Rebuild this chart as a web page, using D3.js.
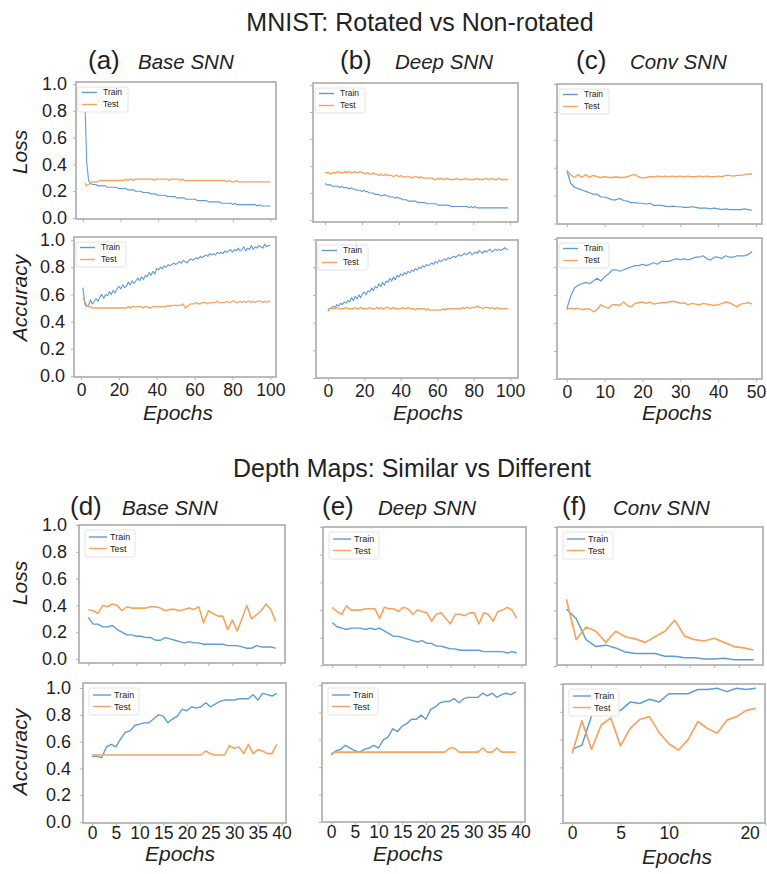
<!DOCTYPE html>
<html>
<head>
<meta charset="utf-8">
<script src="https://cdn.jsdelivr.net/npm/d3@7"></script>
<style>
  body { margin: 0; background: #fff; }
  svg text { font-family: "Liberation Sans", "DejaVu Sans", sans-serif; fill: #222; }
  .frame { fill: none; stroke: #b3b3b3; stroke-width: 1.8; }
  .tick line { stroke: #b3b3b3; }
  .domain { display: none; }
</style>
</head>
<body>
<svg id="fig" width="767" height="874"></svg>
<script>

// Section titles, panel letters and model names
var sectionTitles = ["MNIST: Rotated vs Non-rotated", "Depth Maps: Similar vs Different"];
var panelLetters = [["(a)", "(b)", "(c)"], ["(d)", "(e)", "(f)"]];
var modelNames = ["Base SNN", "Deep SNN", "Conv SNN"];
var seriesNames = ["Train", "Test"];
var yTickValues = [0, 0.2, 0.4, 0.6, 0.8, 1.0];

// (a) MNIST, Base SNN, epochs 1..100
var mnistBaseLossTrain = [0.90,0.42,0.28,0.26,0.25,0.25,0.25,0.24,0.24,0.24,
  0.24,0.24,0.23,0.23,0.23,0.23,0.23,0.23,0.22,0.22,
  0.22,0.22,0.22,0.21,0.21,0.21,0.21,0.20,0.20,0.20,
  0.20,0.19,0.19,0.19,0.19,0.18,0.18,0.18,0.18,0.17,
  0.17,0.17,0.17,0.17,0.16,0.16,0.16,0.16,0.16,0.15,
  0.15,0.15,0.15,0.15,0.14,0.14,0.14,0.14,0.14,0.14,
  0.13,0.13,0.13,0.13,0.13,0.13,0.12,0.12,0.12,0.12,
  0.12,0.12,0.12,0.11,0.11,0.11,0.11,0.11,0.11,0.10,
  0.11,0.10,0.10,0.10,0.10,0.10,0.10,0.10,0.10,0.10,
  0.10,0.10,0.09,0.10,0.09,0.09,0.09,0.09,0.09,0.09];
var mnistBaseLossTest = [0.26,0.24,0.25,0.26,0.27,0.27,0.27,0.27,0.28,0.28,
  0.28,0.28,0.28,0.28,0.28,0.28,0.28,0.28,0.28,0.28,
  0.28,0.28,0.29,0.28,0.29,0.29,0.28,0.29,0.29,0.29,
  0.29,0.29,0.29,0.29,0.29,0.29,0.29,0.28,0.29,0.29,
  0.29,0.29,0.29,0.29,0.29,0.28,0.29,0.29,0.29,0.29,
  0.29,0.28,0.29,0.28,0.28,0.28,0.28,0.28,0.28,0.28,
  0.28,0.28,0.28,0.28,0.28,0.28,0.28,0.28,0.28,0.28,
  0.28,0.28,0.28,0.28,0.28,0.28,0.27,0.28,0.27,0.27,
  0.27,0.28,0.27,0.27,0.27,0.27,0.27,0.27,0.27,0.27,
  0.27,0.27,0.27,0.27,0.27,0.27,0.27,0.27,0.27,0.27];
var mnistBaseAccTrain = [0.65,0.53,0.51,0.52,0.56,0.53,0.55,0.57,0.55,0.58,
  0.60,0.57,0.60,0.59,0.62,0.60,0.63,0.61,0.64,0.66,
  0.64,0.67,0.65,0.66,0.69,0.67,0.70,0.68,0.70,0.72,
  0.70,0.73,0.71,0.74,0.73,0.76,0.74,0.77,0.75,0.79,
  0.78,0.80,0.79,0.81,0.80,0.82,0.81,0.82,0.83,0.82,
  0.83,0.84,0.83,0.85,0.84,0.83,0.85,0.86,0.85,0.86,
  0.87,0.86,0.88,0.87,0.88,0.89,0.88,0.90,0.89,0.90,
  0.89,0.91,0.90,0.91,0.90,0.92,0.91,0.92,0.93,0.91,
  0.93,0.92,0.94,0.92,0.93,0.95,0.92,0.94,0.93,0.96,
  0.93,0.95,0.94,0.96,0.95,0.94,0.97,0.95,0.96,0.96];
var mnistBaseAccTest = [0.57,0.55,0.52,0.51,0.51,0.50,0.50,0.50,0.50,0.50,
  0.50,0.50,0.50,0.50,0.50,0.50,0.50,0.50,0.50,0.50,
  0.50,0.50,0.50,0.50,0.51,0.50,0.51,0.51,0.51,0.51,
  0.51,0.51,0.50,0.51,0.51,0.50,0.50,0.51,0.51,0.51,
  0.51,0.51,0.51,0.51,0.51,0.52,0.51,0.52,0.52,0.52,
  0.52,0.52,0.52,0.53,0.50,0.51,0.52,0.53,0.53,0.53,
  0.54,0.53,0.53,0.54,0.54,0.54,0.53,0.54,0.54,0.54,
  0.54,0.55,0.54,0.54,0.54,0.54,0.55,0.54,0.54,0.55,
  0.55,0.54,0.54,0.55,0.54,0.55,0.54,0.55,0.55,0.54,
  0.55,0.54,0.55,0.55,0.55,0.54,0.55,0.54,0.55,0.55];

// (b) MNIST, Deep SNN, epochs 0..99
var mnistDeepLossTrain = [0.27,0.26,0.26,0.26,0.25,0.25,0.25,0.25,0.24,0.25,
  0.24,0.24,0.24,0.23,0.24,0.23,0.23,0.22,0.22,0.22,
  0.21,0.22,0.21,0.21,0.20,0.20,0.20,0.19,0.19,0.19,
  0.18,0.18,0.19,0.18,0.18,0.17,0.17,0.17,0.16,0.17,
  0.16,0.16,0.15,0.15,0.15,0.14,0.14,0.14,0.14,0.14,
  0.13,0.13,0.13,0.13,0.13,0.12,0.12,0.12,0.12,0.12,
  0.12,0.11,0.11,0.11,0.11,0.11,0.11,0.11,0.10,0.10,
  0.10,0.10,0.10,0.10,0.10,0.10,0.10,0.10,0.09,0.10,
  0.09,0.10,0.09,0.09,0.09,0.09,0.09,0.09,0.09,0.09,
  0.09,0.09,0.09,0.09,0.09,0.09,0.09,0.09,0.09,0.09];
var mnistDeepLossTest = [0.35,0.35,0.35,0.34,0.35,0.35,0.35,0.36,0.35,0.35,
  0.35,0.36,0.35,0.36,0.35,0.35,0.36,0.35,0.35,0.36,
  0.35,0.35,0.34,0.35,0.34,0.34,0.35,0.34,0.34,0.33,
  0.34,0.33,0.33,0.34,0.33,0.33,0.33,0.32,0.33,0.33,
  0.32,0.33,0.32,0.32,0.32,0.32,0.32,0.31,0.32,0.32,
  0.32,0.31,0.32,0.31,0.31,0.31,0.31,0.31,0.31,0.30,
  0.30,0.31,0.30,0.31,0.30,0.30,0.31,0.30,0.30,0.30,
  0.30,0.31,0.30,0.30,0.30,0.30,0.31,0.30,0.30,0.30,
  0.30,0.30,0.31,0.30,0.30,0.30,0.30,0.31,0.30,0.30,
  0.31,0.30,0.30,0.30,0.31,0.30,0.30,0.30,0.30,0.30];
var mnistDeepAccTrain = [0.48,0.50,0.50,0.52,0.51,0.53,0.52,0.54,0.53,0.55,
  0.54,0.56,0.55,0.58,0.56,0.59,0.57,0.60,0.58,0.61,
  0.62,0.60,0.63,0.62,0.65,0.63,0.66,0.65,0.68,0.66,
  0.69,0.67,0.70,0.69,0.72,0.70,0.73,0.71,0.74,0.73,
  0.75,0.74,0.76,0.75,0.77,0.76,0.78,0.77,0.79,0.78,
  0.80,0.79,0.81,0.80,0.82,0.81,0.82,0.83,0.82,0.84,
  0.83,0.85,0.84,0.85,0.86,0.85,0.87,0.86,0.87,0.88,
  0.87,0.88,0.89,0.88,0.89,0.90,0.89,0.90,0.91,0.89,
  0.90,0.91,0.90,0.92,0.91,0.90,0.92,0.91,0.92,0.93,
  0.91,0.92,0.93,0.92,0.93,0.92,0.93,0.94,0.93,0.93];
var mnistDeepAccTest = [0.50,0.50,0.51,0.50,0.50,0.51,0.50,0.50,0.50,0.50,
  0.51,0.50,0.50,0.50,0.50,0.51,0.50,0.50,0.51,0.50,
  0.50,0.50,0.50,0.51,0.50,0.50,0.50,0.51,0.50,0.51,
  0.50,0.50,0.51,0.51,0.50,0.50,0.51,0.50,0.50,0.50,
  0.50,0.51,0.50,0.50,0.51,0.50,0.50,0.50,0.49,0.50,
  0.50,0.50,0.50,0.50,0.49,0.50,0.49,0.49,0.49,0.49,
  0.49,0.49,0.49,0.50,0.49,0.50,0.50,0.50,0.50,0.50,
  0.50,0.50,0.50,0.50,0.51,0.50,0.51,0.51,0.50,0.51,
  0.51,0.51,0.52,0.51,0.51,0.50,0.51,0.51,0.51,0.50,
  0.51,0.50,0.50,0.51,0.50,0.50,0.50,0.50,0.50,0.50];

// (c) MNIST, Conv SNN, epochs 0..49
var mnistConvLossTrain = [0.38,0.29,0.26,0.25,0.24,0.23,0.22,0.21,0.21,0.19,
  0.19,0.18,0.17,0.17,0.18,0.165,0.16,0.15,0.15,0.145,
  0.145,0.14,0.145,0.13,0.13,0.13,0.125,0.12,0.125,0.12,
  0.12,0.115,0.115,0.12,0.115,0.11,0.11,0.11,0.105,0.11,
  0.105,0.10,0.105,0.10,0.10,0.10,0.10,0.105,0.10,0.095];
var mnistConvLossTest = [0.38,0.35,0.33,0.35,0.33,0.35,0.33,0.345,0.335,0.33,
  0.335,0.33,0.33,0.335,0.33,0.33,0.335,0.345,0.35,0.335,
  0.325,0.33,0.335,0.335,0.34,0.335,0.34,0.335,0.34,0.335,
  0.34,0.335,0.34,0.335,0.335,0.34,0.335,0.34,0.335,0.335,
  0.34,0.335,0.345,0.345,0.34,0.345,0.345,0.35,0.355,0.355];
var mnistConvAccTrain = [0.50,0.59,0.65,0.67,0.68,0.69,0.68,0.70,0.72,0.70,
  0.73,0.75,0.78,0.78,0.77,0.78,0.79,0.80,0.81,0.81,
  0.82,0.81,0.82,0.83,0.82,0.84,0.84,0.84,0.85,0.86,
  0.85,0.86,0.85,0.86,0.87,0.87,0.88,0.86,0.85,0.87,
  0.87,0.86,0.88,0.87,0.87,0.88,0.88,0.88,0.89,0.91];
var mnistConvAccTest = [0.50,0.505,0.50,0.505,0.495,0.50,0.50,0.48,0.495,0.53,
  0.515,0.505,0.53,0.53,0.525,0.55,0.525,0.515,0.54,0.545,
  0.55,0.54,0.55,0.535,0.54,0.545,0.545,0.55,0.555,0.55,
  0.54,0.545,0.53,0.54,0.535,0.53,0.54,0.535,0.53,0.525,
  0.53,0.54,0.55,0.545,0.53,0.515,0.535,0.54,0.545,0.535];

// (d) Depth maps, Base SNN, epochs 0..39
var depthBaseLossTrain = [0.31,0.26,0.26,0.24,0.24,0.25,0.22,0.20,0.18,0.18,
  0.17,0.17,0.16,0.16,0.14,0.14,0.16,0.15,0.14,0.13,
  0.12,0.13,0.12,0.12,0.11,0.11,0.11,0.11,0.11,0.10,
  0.10,0.10,0.09,0.08,0.08,0.10,0.09,0.09,0.09,0.08];
var depthBaseLossTest = [0.37,0.36,0.34,0.40,0.39,0.41,0.40,0.36,0.39,0.38,
  0.38,0.38,0.38,0.39,0.39,0.38,0.36,0.37,0.37,0.36,
  0.37,0.38,0.37,0.39,0.27,0.36,0.34,0.32,0.32,0.22,
  0.29,0.21,0.30,0.40,0.30,0.33,0.36,0.41,0.37,0.28];
var depthBaseAccTrain = [0.49,0.49,0.48,0.56,0.58,0.56,0.62,0.67,0.68,0.72,
  0.73,0.74,0.74,0.77,0.80,0.79,0.74,0.77,0.79,0.84,
  0.83,0.86,0.85,0.86,0.89,0.86,0.88,0.90,0.91,0.91,
  0.91,0.92,0.92,0.92,0.95,0.91,0.96,0.95,0.94,0.96];
var depthBaseAccTest = [0.50,0.50,0.50,0.50,0.50,0.50,0.50,0.50,0.50,0.50,
  0.50,0.50,0.50,0.50,0.50,0.50,0.50,0.50,0.50,0.50,
  0.50,0.50,0.50,0.50,0.53,0.51,0.50,0.50,0.50,0.57,
  0.55,0.56,0.51,0.58,0.51,0.54,0.53,0.51,0.51,0.58];

// (e) Depth maps, Deep SNN, epochs 0..39
var depthDeepLossTrain = [0.31,0.28,0.27,0.26,0.27,0.27,0.27,0.26,0.27,0.26,
  0.27,0.25,0.23,0.21,0.21,0.20,0.19,0.18,0.17,0.18,
  0.16,0.16,0.14,0.14,0.13,0.12,0.12,0.11,0.11,0.11,
  0.11,0.11,0.10,0.10,0.10,0.10,0.10,0.09,0.10,0.09];
var depthDeepLossTest = [0.42,0.39,0.37,0.43,0.40,0.40,0.40,0.41,0.41,0.41,
  0.34,0.42,0.41,0.41,0.39,0.42,0.41,0.37,0.40,0.39,
  0.38,0.32,0.37,0.38,0.34,0.30,0.37,0.37,0.36,0.38,
  0.38,0.30,0.38,0.37,0.32,0.39,0.40,0.42,0.40,0.34];
var depthDeepAccTrain = [0.49,0.52,0.53,0.56,0.54,0.52,0.51,0.53,0.54,0.56,
  0.54,0.60,0.62,0.68,0.66,0.70,0.72,0.75,0.75,0.78,
  0.75,0.82,0.84,0.87,0.88,0.88,0.90,0.87,0.90,0.91,
  0.91,0.91,0.94,0.92,0.94,0.91,0.93,0.94,0.93,0.95];
var depthDeepAccTest = [0.50,0.51,0.51,0.51,0.51,0.51,0.51,0.51,0.51,0.51,
  0.51,0.51,0.51,0.51,0.51,0.51,0.51,0.51,0.51,0.51,
  0.51,0.51,0.51,0.51,0.51,0.54,0.54,0.51,0.51,0.51,
  0.51,0.51,0.54,0.51,0.51,0.54,0.51,0.51,0.51,0.51];

// (f) Depth maps, Conv SNN, epochs 0..19
var depthConvLossTrain = [0.41,0.34,0.19,0.14,0.15,0.13,0.10,0.09,0.09,0.09,
  0.07,0.07,0.06,0.06,0.05,0.05,0.055,0.045,0.045,0.045];
var depthConvLossTest = [0.48,0.19,0.28,0.25,0.17,0.25,0.21,0.195,0.17,0.21,
  0.25,0.33,0.215,0.19,0.18,0.20,0.17,0.14,0.13,0.115];
var depthConvAccTrain = [0.53,0.56,0.77,0.81,0.81,0.81,0.87,0.86,0.89,0.87,
  0.93,0.93,0.93,0.96,0.96,0.97,0.945,0.97,0.96,0.97];
var depthConvAccTest = [0.50,0.735,0.53,0.705,0.755,0.555,0.68,0.745,0.765,0.65,
  0.57,0.525,0.60,0.73,0.68,0.645,0.74,0.765,0.81,0.825];

// Colours
var trainColor = "#5f9bd6",
    testColor = "#f6a35e";

// Layout of every sub plot: frame box, value-to-pixel anchors, x limits
var panels = [
  // MNIST row
  {box: [76, 82, 276, 219], yPix: [218, 84], xLim: [-3.7, 103], first: 1, train: mnistBaseLossTrain, test: mnistBaseLossTest, xTicks: [0,20,40,60,80,100], yLabels: true, lw: 1.1},
  {box: [74, 237, 276, 377], yPix: [376, 240], xLim: [-3.7, 103], first: 1, train: mnistBaseAccTrain, test: mnistBaseAccTest, xTicks: [0,20,40,60,80,100], yLabels: true, xLabels: true, lw: 1.1},
  {box: [313, 83, 518, 222], yPix: [220, 85], xLim: [-6.5, 104.3], first: 0, train: mnistDeepLossTrain, test: mnistDeepLossTest, xTicks: [0,20,40,60,80,100], lw: 1.1},
  {box: [316, 240, 518, 378], yPix: [378, 239.5], xLim: [-6.5, 104.3], first: 0, train: mnistDeepAccTrain, test: mnistDeepAccTest, xTicks: [0,20,40,60,80,100], xLabels: true, lw: 1.1},
  {box: [557, 84, 762, 224], yPix: [223.5, 84], xLim: [-2.6, 51.6], first: 0, train: mnistConvLossTrain, test: mnistConvLossTest, xTicks: [0,10,20,30,40,50], lw: 1.2},
  {box: [557, 238, 762, 379], yPix: [379, 239], xLim: [-2.6, 51.6], first: 0, train: mnistConvAccTrain, test: mnistConvAccTest, xTicks: [0,10,20,30,40,50], xLabels: true, lw: 1.2},
  // Depth maps row
  {box: [79, 525, 285, 663], yPix: [659, 525], xLim: [-1.95, 40.95], first: 0, train: depthBaseLossTrain, test: depthBaseLossTest, xTicks: [0,5,10,15,20,25,30,35,40], yLabels: true, big: true, lw: 1.4},
  {box: [83, 683, 286, 823], yPix: [822, 688], xLim: [-1.95, 40.95], first: 0, train: depthBaseAccTrain, test: depthBaseAccTest, xTicks: [0,5,10,15,20,25,30,35,40], yLabels: true, xLabels: true, big: true, lw: 1.4},
  {box: [323, 527, 526, 665], yPix: [665.5, 527], xLim: [-1.95, 40.95], first: 0, train: depthDeepLossTrain, test: depthDeepLossTest, xTicks: [0,5,10,15,20,25,30,35,40], big: true, lw: 1.4},
  {box: [322, 683, 525, 822], yPix: [822, 685], xLim: [-1.95, 40.95], first: 0, train: depthDeepAccTrain, test: depthDeepAccTest, xTicks: [0,5,10,15,20,25,30,35,40], xLabels: true, big: true, lw: 1.4},
  {box: [557, 527, 763, 665], yPix: [666, 527], xLim: [-0.95, 19.95], first: 0, train: depthConvLossTrain, test: depthConvLossTest, xTicks: [0,2.5,5,7.5,10,12.5,15,17.5], big: true, lw: 1.5},
  {box: [563, 684, 765, 823], yPix: [823, 684], xLim: [-0.95, 19.95], first: 0, train: depthConvAccTrain, test: depthConvAccTest, xTicks: [0,5,10,20], xLabels: true, big: true, lw: 1.5}
];

var svg = d3.select("#fig");

// Draw each sub plot
panels.forEach(function(p) {
  var x = d3.scaleLinear().domain(p.xLim).range([p.box[0], p.box[2]]),
      y = d3.scaleLinear().domain([0, 1]).range(p.yPix);

  var g = svg.append("g");

  // Left axis (ticks, labels only on the first column)
  var yAxis = g.append("g")
      .attr("transform", "translate(" + p.box[0] + ",0)")
      .call(d3.axisLeft(y)
          .tickValues(yTickValues)
          .tickSize(3)
          .tickPadding(p.big ? 9 : 6)
          .tickFormat(p.yLabels ? d3.format(".1f") : ""));
  yAxis.selectAll("text").style("font-size", "18px").attr("fill", "#2a2a2a");

  // Bottom axis
  var xAxis = g.append("g")
      .attr("transform", "translate(0," + p.box[3] + ")")
      .call(d3.axisBottom(x)
          .tickValues(p.xTicks)
          .tickSize(3)
          .tickPadding(p.big ? 1 : 4)
          .tickFormat(p.xLabels ? d3.format("d") : ""));
  xAxis.selectAll("text").style("font-size", "17.5px").attr("fill", "#2a2a2a");

  // the last label of a crowded axis sits inside the frame's right edge
  if (p.xLim[1] - p.xTicks[p.xTicks.length - 1] < 0.5) {
    xAxis.selectAll("text").filter(function(d, i, n) { return i === n.length - 1; })
        .attr("text-anchor", "end")
        .attr("dx", "-0.35em");
  }

  // The lines
  var line = d3.line()
      .x(function(d, i) { return x(i + p.first); })
      .y(function(d) { return y(d); });

  g.append("path")
      .datum(p.train)
      .attr("fill", "none")
      .attr("stroke", trainColor)
      .attr("stroke-width", p.lw)
      .attr("stroke-linejoin", "round")
      .attr("d", line);

  g.append("path")
      .datum(p.test)
      .attr("fill", "none")
      .attr("stroke", testColor)
      .attr("stroke-width", p.lw + 0.2)
      .attr("stroke-linejoin", "round")
      .attr("d", line);

  // Frame
  g.append("rect")
      .attr("class", "frame")
      .attr("x", p.box[0])
      .attr("y", p.box[1])
      .attr("width", p.box[2] - p.box[0])
      .attr("height", p.box[3] - p.box[1]);

  // Legend
  var lx = p.box[0] + (p.big ? 6 : 2),
      ly = p.box[1] + 5,
      lw = 50,
      lh = p.big ? 27 : 25,
      fs = p.big ? 9 : 8.5,
      row = p.big ? 11.5 : 12;
  var leg = g.append("g").attr("transform", "translate(" + lx + "," + ly + ")");
  leg.append("rect")
      .attr("width", lw).attr("height", lh).attr("rx", 2)
      .attr("fill", "#fff").attr("stroke", "#dcdcdc").attr("stroke-width", 0.8);
  seriesNames.forEach(function(name, i) {
    var cy = (p.big ? 7 : 5.5) + i * row;
    leg.append("line")
        .attr("x1", 4).attr("x2", p.big ? 22 : 19)
        .attr("y1", cy).attr("y2", cy)
        .attr("stroke", i === 0 ? trainColor : testColor)
        .attr("stroke-width", 1.4);
    leg.append("text")
        .attr("x", 25)
        .attr("y", cy)
        .attr("dy", "0.35em")
        .style("font-size", fs + "px")
        .text(name);
  });
});

// Section titles
var titleX = [420, 412], titleY = [31, 477];
sectionTitles.forEach(function(t, i) {
  svg.append("text")
      .attr("x", titleX[i]).attr("y", titleY[i])
      .attr("text-anchor", "middle")
      .style("font-size", "25px")
      .text(t);
});

// Panel letters and model names
var letterX = [[88, 340, 576], [70, 322, 562]],
    nameX = [[138, 395, 630], [122, 378, 613]],
    headY = [69, 515];
panelLetters.forEach(function(rowLetters, r) {
  rowLetters.forEach(function(l, c) {
    svg.append("text")
        .attr("x", letterX[r][c]).attr("y", headY[r])
        .style("font-size", "26px")
        .text(l);
    svg.append("text")
        .attr("x", nameX[r][c]).attr("y", headY[r])
        .style("font-size", "20.5px")
        .style("font-style", "italic")
        .text(modelNames[c]);
  });
});

// Axis titles
var yTitles = [["Loss", 152], ["Accuracy", 298], ["Loss", 583], ["Accuracy", 752]];
yTitles.forEach(function(t) {
  svg.append("text")
      .attr("transform", "translate(27," + t[1] + ") rotate(-90)")
      .attr("text-anchor", "middle")
      .style("font-size", "21px")
      .style("font-style", "italic")
      .text(t[0]);
});

var epochX = [[178, 428, 677], [180, 408, 677]],
    epochY = [[420, 420, 420], [861, 861, 864]];
epochX.forEach(function(rowX, r) {
  rowX.forEach(function(ex, c) {
    svg.append("text")
        .attr("x", ex).attr("y", epochY[r][c])
        .attr("text-anchor", "middle")
        .style("font-size", "21px")
        .style("font-style", "italic")
        .text("Epochs");
  });
});

</script>
</body>
</html>
